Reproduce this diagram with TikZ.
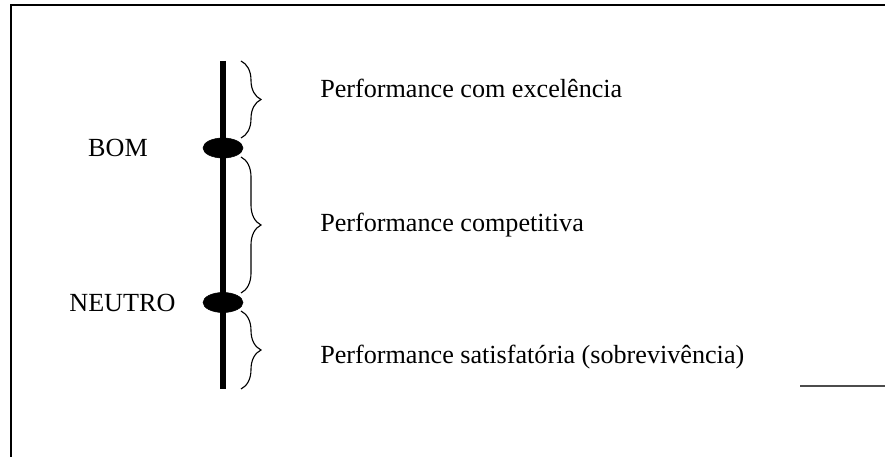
\documentclass[tikz,border=0pt]{standalone}
\usepackage{fontspec}
\setmainfont{Liberation Serif}
\usetikzlibrary{decorations.pathreplacing,shapes.geometric}

\begin{document}
\begin{tikzpicture}[
  font=\fontsize{18.6}{22}\selectfont,
  frame/.style={line width=1.2pt},
  axis/.style={line width=3.6pt},
  level/.style={draw, fill=black, ellipse, inner sep=0pt, minimum width=1.0cm, minimum height=0.5cm},
  lbl/.style={inner sep=0pt},
  band/.style={decorate, decoration={brace, amplitude=0.5cm}, line width=0.8pt},
  desc/.style={anchor=west, inner sep=0pt}
]
\useasboundingbox (0,0) rectangle (22.125,11.425);

% open frame
\coordinate (ftl) at (0.275,11.3);
\coordinate (ftr) at (22.125,11.3);
\coordinate (fbl) at (0.275,0);
\draw[frame] (fbl) -- (ftl) -- (ftr);
\coordinate (fr1) at (20.0,1.775);
\coordinate (fr2) at (22.125,1.775);
\draw[line width=0.8pt, black!70] (fr1) -- (fr2);

% scale axis
\coordinate (atop) at (5.575,9.9);
\coordinate (abot) at (5.575,1.7);
\draw[axis] (atop) -- (abot);

\node[level] (bomdot) at (5.575,7.725) {};
\node[level] (neutrodot) at (5.575,3.8625) {};
\node[lbl] (bom) at (2.95,7.725) {BOM};
\node[lbl] (neutro) at (3.06,3.84) {NEUTRO};

% bands
\coordinate (b1a) at (6.025,9.9);
\coordinate (b1b) at (6.025,7.975);
\coordinate (b2a) at (6.025,7.5);
\coordinate (b2b) at (6.025,4.1);
\coordinate (b3a) at (6.025,3.65);
\coordinate (b3b) at (6.025,1.7);
\draw[band] (b1a) -- (b1b);
\draw[band] (b2a) -- (b2b);
\draw[band] (b3a) -- (b3b);

\node[desc] (excel) at (8.0,9.225) {Performance com excelência};
\node[desc] (compet) at (8.0,5.8) {Performance competitiva};
\node[desc] (satisf) at (8.0,2.5) {Performance satisfatória (sobrevivência)};
\end{tikzpicture}
\end{document}
